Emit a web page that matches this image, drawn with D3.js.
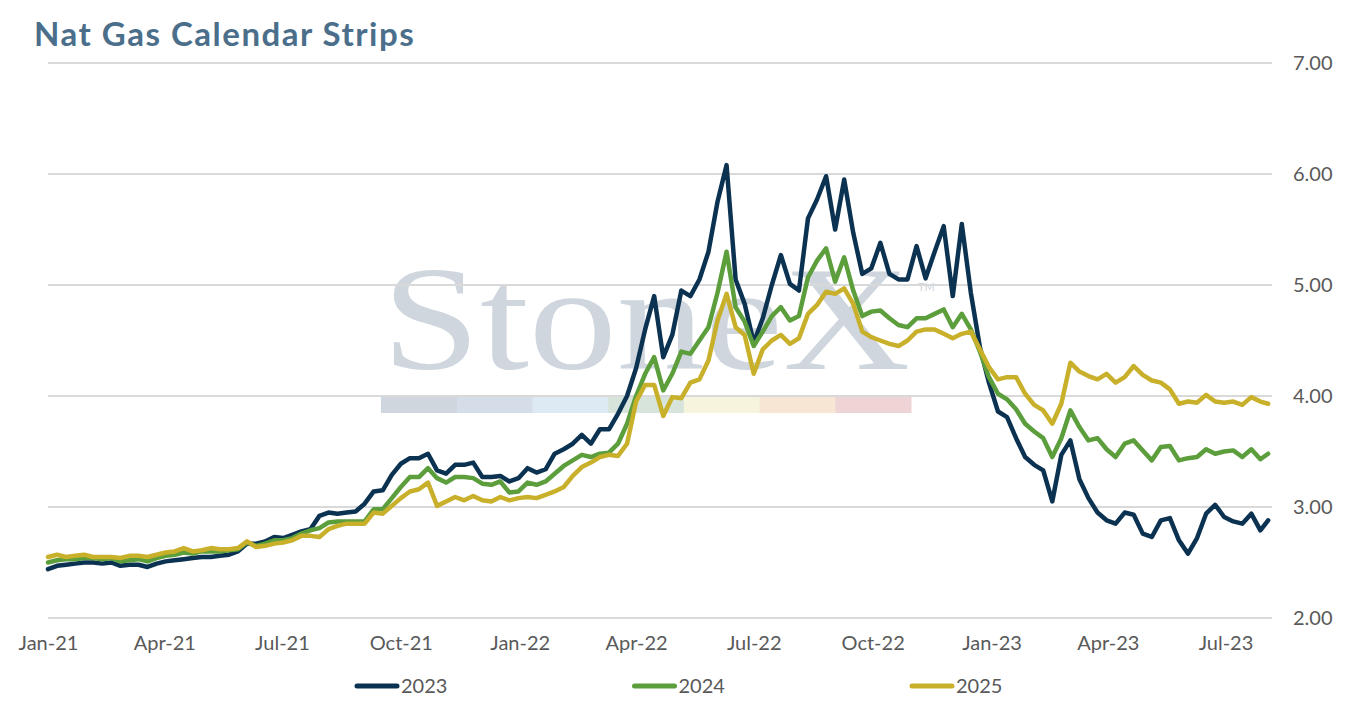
<!DOCTYPE html>
<html>
<head>
	<meta charset="utf-8">
	<title>Nat Gas Calendar Strips</title>
	<style>
		body { margin: 0; background: #fff; }
		text { font-family: Lato, "Open Sans", sans-serif; }
	</style>
</head>
<body>
	<svg id="container" width="1350" height="707"></svg>
</body>
<script src="https://d3js.org/d3.v7.min.js"></script>
<script>
	// weekly settlement dates (Fridays) of the strips
	const dates = [
		"2021-01-01","2021-01-08","2021-01-15","2021-01-22","2021-01-29",
		"2021-02-05","2021-02-12","2021-02-19","2021-02-26",
		"2021-03-05","2021-03-12","2021-03-19","2021-03-26",
		"2021-04-02","2021-04-09","2021-04-16","2021-04-23","2021-04-30",
		"2021-05-07","2021-05-14","2021-05-21","2021-05-28",
		"2021-06-04","2021-06-11","2021-06-18","2021-06-25",
		"2021-07-02","2021-07-09","2021-07-16","2021-07-23","2021-07-30",
		"2021-08-06","2021-08-13","2021-08-20","2021-08-27",
		"2021-09-03","2021-09-10","2021-09-17","2021-09-24",
		"2021-10-01","2021-10-08","2021-10-15","2021-10-22","2021-10-29",
		"2021-11-05","2021-11-12","2021-11-19","2021-11-26",
		"2021-12-03","2021-12-10","2021-12-17","2021-12-24","2021-12-31",
		"2022-01-07","2022-01-14","2022-01-21","2022-01-28",
		"2022-02-04","2022-02-11","2022-02-18","2022-02-25",
		"2022-03-04","2022-03-11","2022-03-18","2022-03-25",
		"2022-04-01","2022-04-08","2022-04-15","2022-04-22","2022-04-29",
		"2022-05-06","2022-05-13","2022-05-20","2022-05-27",
		"2022-06-03","2022-06-10","2022-06-17","2022-06-24",
		"2022-07-01","2022-07-08","2022-07-15","2022-07-22","2022-07-29",
		"2022-08-05","2022-08-12","2022-08-19","2022-08-26",
		"2022-09-02","2022-09-09","2022-09-16","2022-09-23","2022-09-30",
		"2022-10-07","2022-10-14","2022-10-21","2022-10-28",
		"2022-11-04","2022-11-11","2022-11-18","2022-11-25",
		"2022-12-02","2022-12-09","2022-12-16","2022-12-23","2022-12-30",
		"2023-01-06","2023-01-13","2023-01-20","2023-01-27",
		"2023-02-03","2023-02-10","2023-02-17","2023-02-24",
		"2023-03-03","2023-03-10","2023-03-17","2023-03-24","2023-03-31",
		"2023-04-07","2023-04-14","2023-04-21","2023-04-28",
		"2023-05-05","2023-05-12","2023-05-19","2023-05-26",
		"2023-06-02","2023-06-09","2023-06-16","2023-06-23","2023-06-30",
		"2023-07-07","2023-07-14","2023-07-21","2023-07-28",
		"2023-08-03"
	]

	const strip2023 = [
		2.44,2.47,2.48,2.49,2.50,2.50,2.49,2.50,2.47,2.48,
		2.48,2.46,2.49,2.51,2.52,2.53,2.54,2.55,2.55,2.56,
		2.57,2.60,2.67,2.67,2.69,2.73,2.72,2.75,2.78,2.80,
		2.92,2.95,2.94,2.95,2.96,3.03,3.14,3.15,3.29,3.39,
		3.44,3.44,3.48,3.33,3.30,3.38,3.38,3.40,3.27,3.27,
		3.28,3.23,3.26,3.35,3.31,3.34,3.48,3.52,3.57,3.65,
		3.57,3.70,3.70,3.84,4.00,4.25,4.60,4.90,4.35,4.55,
		4.95,4.90,5.05,5.30,5.75,6.08,5.05,4.83,4.48,4.70,
		5.00,5.27,5.01,4.95,5.60,5.77,5.98,5.50,5.95,5.47,
		5.10,5.15,5.38,5.10,5.05,5.05,5.35,5.06,5.30,5.53,
		4.90,5.55,4.93,4.44,4.12,3.86,3.81,3.62,3.45,3.38,
		3.33,3.05,3.47,3.60,3.25,3.08,2.95,2.88,2.85,2.95,
		2.93,2.76,2.73,2.88,2.90,2.70,2.58,2.72,2.94,3.02,
		2.91,2.87,2.85,2.94,2.79,2.88
	]

	const strip2024 = [
		2.50,2.52,2.53,2.53,2.54,2.54,2.53,2.54,2.51,2.52,
		2.53,2.51,2.54,2.56,2.57,2.59,2.58,2.60,2.60,2.60,
		2.61,2.62,2.68,2.65,2.67,2.70,2.70,2.72,2.76,2.79,
		2.81,2.86,2.87,2.87,2.87,2.87,2.98,2.98,3.08,3.18,
		3.27,3.27,3.35,3.26,3.22,3.27,3.27,3.26,3.21,3.20,
		3.23,3.13,3.14,3.22,3.20,3.23,3.30,3.37,3.42,3.47,
		3.45,3.48,3.49,3.57,3.75,4.00,4.20,4.35,4.05,4.20,
		4.40,4.38,4.50,4.62,4.93,5.30,4.80,4.67,4.45,4.58,
		4.72,4.80,4.68,4.72,5.07,5.22,5.33,5.03,5.25,4.95,
		4.72,4.76,4.77,4.70,4.64,4.62,4.70,4.70,4.74,4.78,
		4.62,4.74,4.60,4.40,4.17,4.02,3.97,3.88,3.75,3.68,
		3.62,3.45,3.62,3.87,3.72,3.60,3.62,3.52,3.45,3.57,
		3.60,3.51,3.42,3.54,3.55,3.42,3.44,3.45,3.52,3.48,
		3.50,3.51,3.45,3.52,3.43,3.48
	]

	const strip2025 = [
		2.55,2.57,2.55,2.56,2.57,2.55,2.55,2.55,2.54,2.56,
		2.56,2.55,2.57,2.59,2.60,2.63,2.60,2.61,2.63,2.62,
		2.62,2.63,2.69,2.64,2.65,2.67,2.68,2.70,2.74,2.74,
		2.73,2.80,2.83,2.85,2.85,2.85,2.95,2.94,3.01,3.08,
		3.14,3.16,3.22,3.01,3.05,3.09,3.06,3.10,3.06,3.05,
		3.09,3.06,3.08,3.09,3.08,3.11,3.14,3.18,3.28,3.36,
		3.40,3.45,3.47,3.46,3.57,3.95,4.10,4.10,3.82,3.99,
		3.98,4.12,4.15,4.32,4.68,4.92,4.62,4.55,4.20,4.42,
		4.50,4.55,4.47,4.52,4.74,4.82,4.94,4.92,4.97,4.83,
		4.58,4.53,4.50,4.47,4.45,4.50,4.58,4.60,4.60,4.56,
		4.52,4.56,4.58,4.42,4.26,4.15,4.17,4.17,4.02,3.92,
		3.87,3.75,3.93,4.30,4.22,4.18,4.15,4.20,4.12,4.17,
		4.27,4.19,4.14,4.12,4.06,3.93,3.95,3.94,4.01,3.95,
		3.94,3.95,3.92,3.99,3.95,3.93
	]

	const seriesNames = ["2023", "2024", "2025"]
	const seriesColors = ["#0c3252", "#5b9e3b", "#c8b02b"]
	const tickMonths = ["2021-01-01","2021-04-01","2021-07-01","2021-10-01","2022-01-01","2022-04-01",
		"2022-07-01","2022-10-01","2023-01-01","2023-04-01","2023-07-01"]
	const yTicks = [2, 3, 4, 5, 6, 7]
	const logoBands = ["#d0d6de","#d4dde8","#dde9f3","#d6e4dc","#f6f4dd","#f8e6d5","#efd4d6"]

	const parse = d3.timeParse("%Y-%m-%d")
	let container = d3.select("#container")

	let x = d3.scaleTime()
		.domain([parse("2021-01-01"), parse("2023-08-06")])
		.range([48, 1272])

	let y = d3.scaleLinear()
		.domain([2, 7])
		.range([618, 63])

	// watermark
	let logo = container.append("g")
	logo.append("text")
		.attr("x", 382)
		.attr("y", 369)
		.attr("textLength", 528)
		.attr("lengthAdjust", "spacingAndGlyphs")
		.style("font-family", "'Liberation Serif', 'DejaVu Serif', serif")
		.style("font-size", "148px")
		.attr("fill", "#cfd6de")
		.text("StoneX")
	logo.append("text")
		.attr("x", 918)
		.attr("y", 291)
		.style("font-size", "11px")
		.attr("fill", "#cfd6de")
		.text("TM")
	let band = d3.scaleBand().domain(d3.range(logoBands.length)).range([381, 911])
	logo.selectAll("rect")
		.data(logoBands)
		.enter()
		.append("rect")
		.attr("x", (d, i) => band(i))
		.attr("width", band.bandwidth() + 0.5)
		.attr("y", 397)
		.attr("height", 16)
		.attr("fill", d => d)

	// grid
	container.append("g")
		.selectAll("line")
		.data(yTicks)
		.enter()
		.append("line")
		.attr("x1", 48)
		.attr("x2", 1272)
		.attr("y1", d => y(d))
		.attr("y2", d => y(d))
		.attr("stroke", "#d9d9d9")
		.attr("stroke-width", 2)

	// axes
	let yAxis = container.append("g")
		.attr("transform", "translate(1272,0)")
		.call(d3.axisRight(y).tickValues(yTicks).tickSize(0).tickPadding(21).tickFormat(d3.format(".2f")))
	yAxis.select(".domain").remove()
	yAxis.selectAll("text")
		.style("font-family", "Lato, sans-serif")
		.style("font-size", "20px")
		.attr("fill", "#595959")

	let xAxis = container.append("g")
		.attr("transform", "translate(0,618)")
		.call(d3.axisBottom(x).tickValues(tickMonths.map(parse)).tickSize(0).tickPadding(18).tickFormat(d3.timeFormat("%b-%y")))
	xAxis.select(".domain").remove()
	xAxis.selectAll("text")
		.style("font-family", "Lato, sans-serif")
		.style("font-size", "20px")
		.attr("fill", "#595959")

	// lines
	let rows = dates.map((d, i) => ({date: parse(d), values: [strip2023[i], strip2024[i], strip2025[i]]}))
	let line = k => d3.line()
		.x(d => x(d.date))
		.y(d => y(d.values[k]))

	container.append("g")
		.selectAll("path")
		.data(seriesNames)
		.enter()
		.append("path")
		.attr("d", (d, k) => line(k)(rows))
		.attr("fill", "none")
		.attr("stroke", (d, k) => seriesColors[k])
		.attr("stroke-width", 4.5)
		.attr("stroke-linejoin", "round")
		.attr("stroke-linecap", "round")

	// legend
	let legendX = d3.scalePoint().domain(seriesNames).range([355, 910])
	let legend = container.append("g")
		.selectAll("g")
		.data(seriesNames)
		.enter()
		.append("g")
		.attr("transform", d => "translate(" + legendX(d) + ",686)")
	legend.append("line")
		.attr("x1", 2)
		.attr("x2", 42)
		.attr("stroke", (d, k) => seriesColors[k])
		.attr("stroke-width", 5)
		.attr("stroke-linecap", "round")
	legend.append("text")
		.attr("x", 46)
		.attr("dy", "0.35em")
		.style("font-size", "20px")
		.attr("fill", "#595959")
		.text(d => d)

	// title
	container.append("text")
		.attr("x", 34)
		.attr("y", 46)
		.style("font-size", "33px")
		.style("font-weight", "bold")
		.style("letter-spacing", "1.5px")
		.attr("fill", "#4b6f8b")
		.text("Nat Gas Calendar Strips")
</script>
</html>
